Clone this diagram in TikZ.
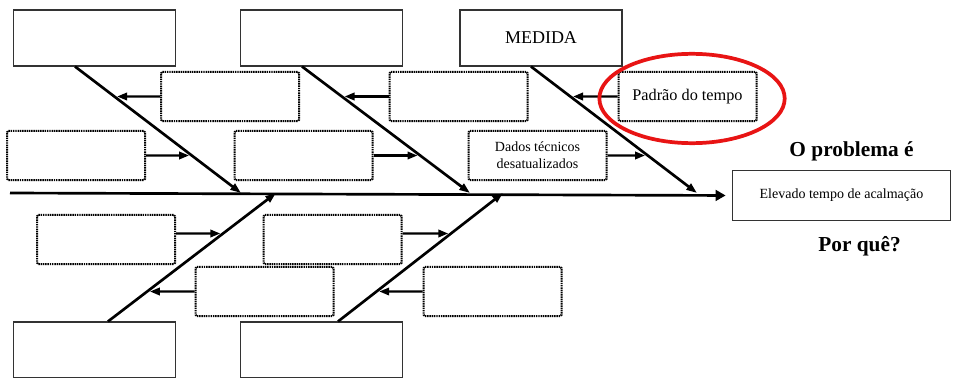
\documentclass[tikz,border=0pt]{standalone}
\usepackage{fontspec}
\setmainfont{Liberation Serif}
\usepackage{tikz}
\usetikzlibrary{arrows.meta, positioning}
\definecolor{ringred}{RGB}{232,20,20}
\tikzstyle{cause}=[draw=black!80, line width=0.8pt, minimum width=121.5pt,
                   minimum height=42pt, font=\fontsize{13.5}{16}\selectfont]
\tikzstyle{subcause}=[draw, line width=1.5pt, dash pattern=on 1.1pt off 0.6pt,
                      rounded corners=1pt, minimum width=103.5pt, minimum height=37pt,
                      align=center, font=\fontsize{10.5}{12.5}\selectfont]
\tikzstyle{bone}=[-{Triangle[length=8pt, width=5.5pt]}, line width=2pt]
\tikzstyle{arrow}=[-{Triangle[length=7.5pt, width=5.5pt]}, line width=1.8pt, shorten >=2pt]
\tikzstyle{title}=[font=\fontsize{16}{19}\selectfont\bfseries, inner sep=0pt]

\begin{document}
\begin{tikzpicture}[x=0.75pt, y=-0.75pt]
  \useasboundingbox (0,0) rectangle (953,378);

  % head of the fish
  \node[draw=black!80, line width=0.8pt, minimum width=164pt, minimum height=38pt,
        font=\fontsize{10.5}{12.5}\selectfont] (effect) at (841.5,195.5)
    {Elevado tempo de acalmação};
  \node[title, above=6pt of effect, xshift=7.5pt] (problem) {O problema é};
  \node[title, below=11pt of effect, xshift=13.5pt] (why) {Por quê?};

  % main categories
  \node[cause] (top1) at (94.5,38) {};
  \node[cause] (top2) at (321.5,38) {};
  \node[cause] (top3) at (541,38) {MEDIDA};
  \node[cause] (bot1) at (94.5,350) {};
  \node[cause] (bot2) at (321.5,350) {};

  % spine and bones
  \coordinate (tail) at (10,193);
  \coordinate (j1) at (241,193);
  \coordinate (j2) at (470,193);
  \coordinate (j3) at (697,193);
  \coordinate (j4) at (276,193);
  \coordinate (j5) at (503,193);
  \coordinate (r1) at ([xshift=-14.6pt]top1.south);
  \coordinate (r2) at ([xshift=-14.6pt]top2.south);
  \coordinate (r3) at ([xshift=-7.5pt]top3.south);
  \coordinate (r4) at ([xshift=10.1pt]bot1.north);
  \coordinate (r5) at ([xshift=12.4pt]bot2.north);

  \draw[-{Triangle[length=7.5pt, width=8pt]}, line width=2pt, shorten >=4.5pt]
    (tail) -- (effect.west);
  \foreach \i in {1,...,5}
    \draw[bone] (r\i) -- (j\i);

  % sub-causes
  \node[subcause] (sa) at (230,96.5) {};
  \node[subcause] (sb) at (458.5,96.5) {};
  \node[subcause, font=\fontsize{12.2}{14}\selectfont] (sc) at (687.5,96.5) {Padrão do tempo};
  \node[subcause] (sd) at (76,155.5) {};
  \node[subcause] (se) at (303.5,155.5) {};
  \node[subcause] (sf) at (537.5,155.5) {Dados técnicos\\desatualizados};
  \node[subcause] (sg) at (106,239.5) {};
  \node[subcause] (sh) at (332.5,239.5) {};
  \node[subcause] (si) at (264.5,291.5) {};
  \node[subcause] (sj) at (492.5,291.5) {};

  \draw[arrow] (sa.west) -- (intersection of sa.west--sa.east and r1--j1);
  \draw[arrow] (sb.west) -- (intersection of sb.west--sb.east and r2--j2);
  \draw[arrow] (sc.west) -- (intersection of sc.west--sc.east and r3--j3);
  \draw[arrow] (sd.east) -- (intersection of sd.west--sd.east and r1--j1);
  \draw[arrow] (se.east) -- (intersection of se.west--se.east and r2--j2);
  \draw[arrow] (sf.east) -- (intersection of sf.west--sf.east and r3--j3);
  \draw[arrow] ([yshift=4.5pt]sg.east) -- (intersection of {[yshift=4.5pt]sg.west}--{[yshift=4.5pt]sg.east} and r4--j4);
  \draw[arrow] ([yshift=4.5pt]sh.east) -- (intersection of {[yshift=4.5pt]sh.west}--{[yshift=4.5pt]sh.east} and r5--j5);
  \draw[arrow] (si.west) -- (intersection of si.west--si.east and r4--j4);
  \draw[arrow] (sj.west) -- (intersection of sj.west--sj.east and r5--j5);

  % highlight
  \draw[ringred, line width=2.8pt] ([xshift=3.4pt, yshift=-1.5pt]sc.center)
    ellipse [x radius=69.5pt, y radius=33.5pt];
\end{tikzpicture}
\end{document}
